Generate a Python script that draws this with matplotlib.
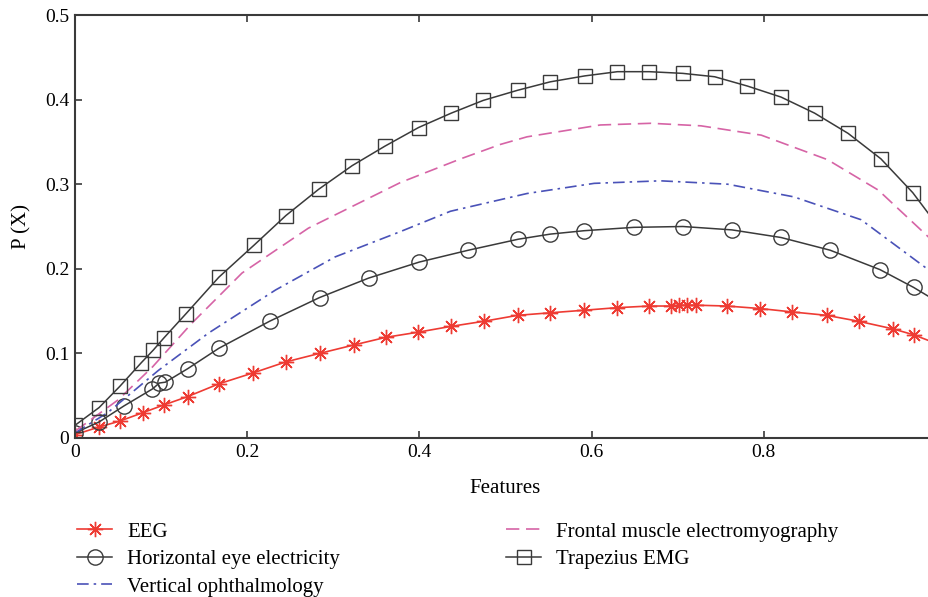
import numpy as np
import matplotlib.pyplot as plt

# ================= data =================
trap_x = [0.0, 0.028, 0.052, 0.077, 0.091, 0.103, 0.129, 0.167, 0.208, 0.245,
          0.283, 0.322, 0.360, 0.399, 0.437, 0.474, 0.514, 0.552, 0.592, 0.630,
          0.667, 0.706, 0.743, 0.781, 0.820, 0.859, 0.898, 0.936, 0.973, 1.01]
trap_y = [0.015, 0.036, 0.061, 0.089, 0.104, 0.118, 0.147, 0.190, 0.228, 0.263,
          0.294, 0.322, 0.345, 0.367, 0.384, 0.399, 0.411, 0.421, 0.428, 0.433,
          0.433, 0.431, 0.427, 0.416, 0.403, 0.384, 0.360, 0.330, 0.290, 0.240]

horiz_x = [0.0, 0.028, 0.057, 0.090, 0.098, 0.105, 0.131, 0.167, 0.226, 0.284,
           0.341, 0.400, 0.457, 0.515, 0.552, 0.591, 0.649, 0.706, 0.763, 0.820,
           0.877, 0.935, 0.974, 1.01]
horiz_y = [0.006, 0.019, 0.038, 0.058, 0.065, 0.066, 0.082, 0.106, 0.138, 0.166,
           0.189, 0.208, 0.222, 0.235, 0.241, 0.245, 0.249, 0.250, 0.246, 0.237,
           0.222, 0.199, 0.178, 0.156]

eeg_x = [0.0, 0.028, 0.052, 0.079, 0.103, 0.131, 0.167, 0.207, 0.245, 0.284,
         0.324, 0.361, 0.398, 0.437, 0.475, 0.514, 0.552, 0.591, 0.629, 0.667,
         0.692, 0.701, 0.711, 0.721, 0.757, 0.796, 0.833, 0.873, 0.910, 0.950,
         0.974, 1.01]
eeg_y = [0.004, 0.013, 0.020, 0.030, 0.039, 0.049, 0.064, 0.077, 0.090, 0.100,
         0.110, 0.119, 0.125, 0.132, 0.138, 0.145, 0.148, 0.151, 0.154, 0.156,
         0.156, 0.157, 0.157, 0.157, 0.156, 0.153, 0.149, 0.145, 0.138, 0.129,
         0.122, 0.108]

front_x = [0.0, 0.050, 0.090, 0.136, 0.194, 0.271, 0.378, 0.448, 0.494, 0.525,
           0.610, 0.669, 0.727, 0.797, 0.874, 0.933, 0.995]
front_y = [0.008, 0.045, 0.084, 0.136, 0.195, 0.248, 0.302, 0.330, 0.347, 0.356,
           0.370, 0.372, 0.369, 0.358, 0.329, 0.293, 0.234]

vert_x = [0.0, 0.038, 0.097, 0.155, 0.233, 0.302, 0.378, 0.436, 0.525, 0.603,
          0.680, 0.758, 0.835, 0.913, 0.995]
vert_y = [0.006, 0.030, 0.080, 0.124, 0.175, 0.214, 0.244, 0.268, 0.289, 0.301,
          0.304, 0.300, 0.285, 0.258, 0.196]

labels = ["EEG", "Horizontal eye electricity", "Vertical ophthalmology",
          "Frontal muscle electromyography", "Trapezius EMG"]

plt.rcParams['font.family'] = ['Liberation Serif', 'DejaVu Serif']

W, H = 929, 597
fig = plt.figure(figsize=(W / 100, H / 100), dpi=100)
ax = fig.add_axes([75 / W, (H - 438) / H, (936 - 75) / W, (438 - 15) / H])

dark = '#3a3a3a'
l_eeg, = ax.plot(eeg_x, eeg_y, color='#ee3b33', lw=1.2, marker=(8, 2, 0),
                 ms=11, mew=1.0, label=labels[0])
l_hor, = ax.plot(horiz_x, horiz_y, color=dark, lw=1.1, marker='o', ms=11,
                 mfc='none', mew=1.0, label=labels[1])
l_ver, = ax.plot(vert_x, vert_y, color='#4a52b8', lw=1.2, ls=(0, (7, 3, 1.5, 3)),
                 label=labels[2])
l_fro, = ax.plot(front_x, front_y, color='#d664a6', lw=1.2, ls=(0, (8, 4)),
                 label=labels[3])
l_tra, = ax.plot(trap_x, trap_y, color=dark, lw=1.1, marker='s', ms=10,
                 mfc='none', mew=1.0, label=labels[4])

ax.set_xlim(0, 1)
ax.set_ylim(0, 0.5)
ax.set_xticks([0, 0.2, 0.4, 0.6, 0.8])
ax.set_xticklabels(["0", "0.2", "0.4", "0.6", "0.8"])
ax.set_yticks([0, 0.1, 0.2, 0.3, 0.4, 0.5])
ax.set_yticklabels(["0", "0.1", "0.2", "0.3", "0.4", "0.5"])
ax.tick_params(direction='in', top=True, right=True, length=5, width=1.2,
               color=dark, labelsize=14, pad=4)
for s in ax.spines.values():
    s.set_color(dark)
    s.set_linewidth(1.5)

ax.set_xlabel("Features", fontsize=15, labelpad=13)
ax.set_ylabel("P (X)", fontsize=15, labelpad=10)

leg_kw = dict(frameon=False, fontsize=15, handlelength=1.7, handletextpad=0.7,
              labelspacing=0.38, borderpad=0, borderaxespad=0, loc='upper left')
fig.legend(handles=[l_eeg, l_hor, l_ver], bbox_to_anchor=(77 / W, 1 - 522 / H), **leg_kw)
fig.legend(handles=[l_fro, l_tra], bbox_to_anchor=(506 / W, 1 - 522 / H), **leg_kw)

fig.savefig("out.png", dpi=100)
